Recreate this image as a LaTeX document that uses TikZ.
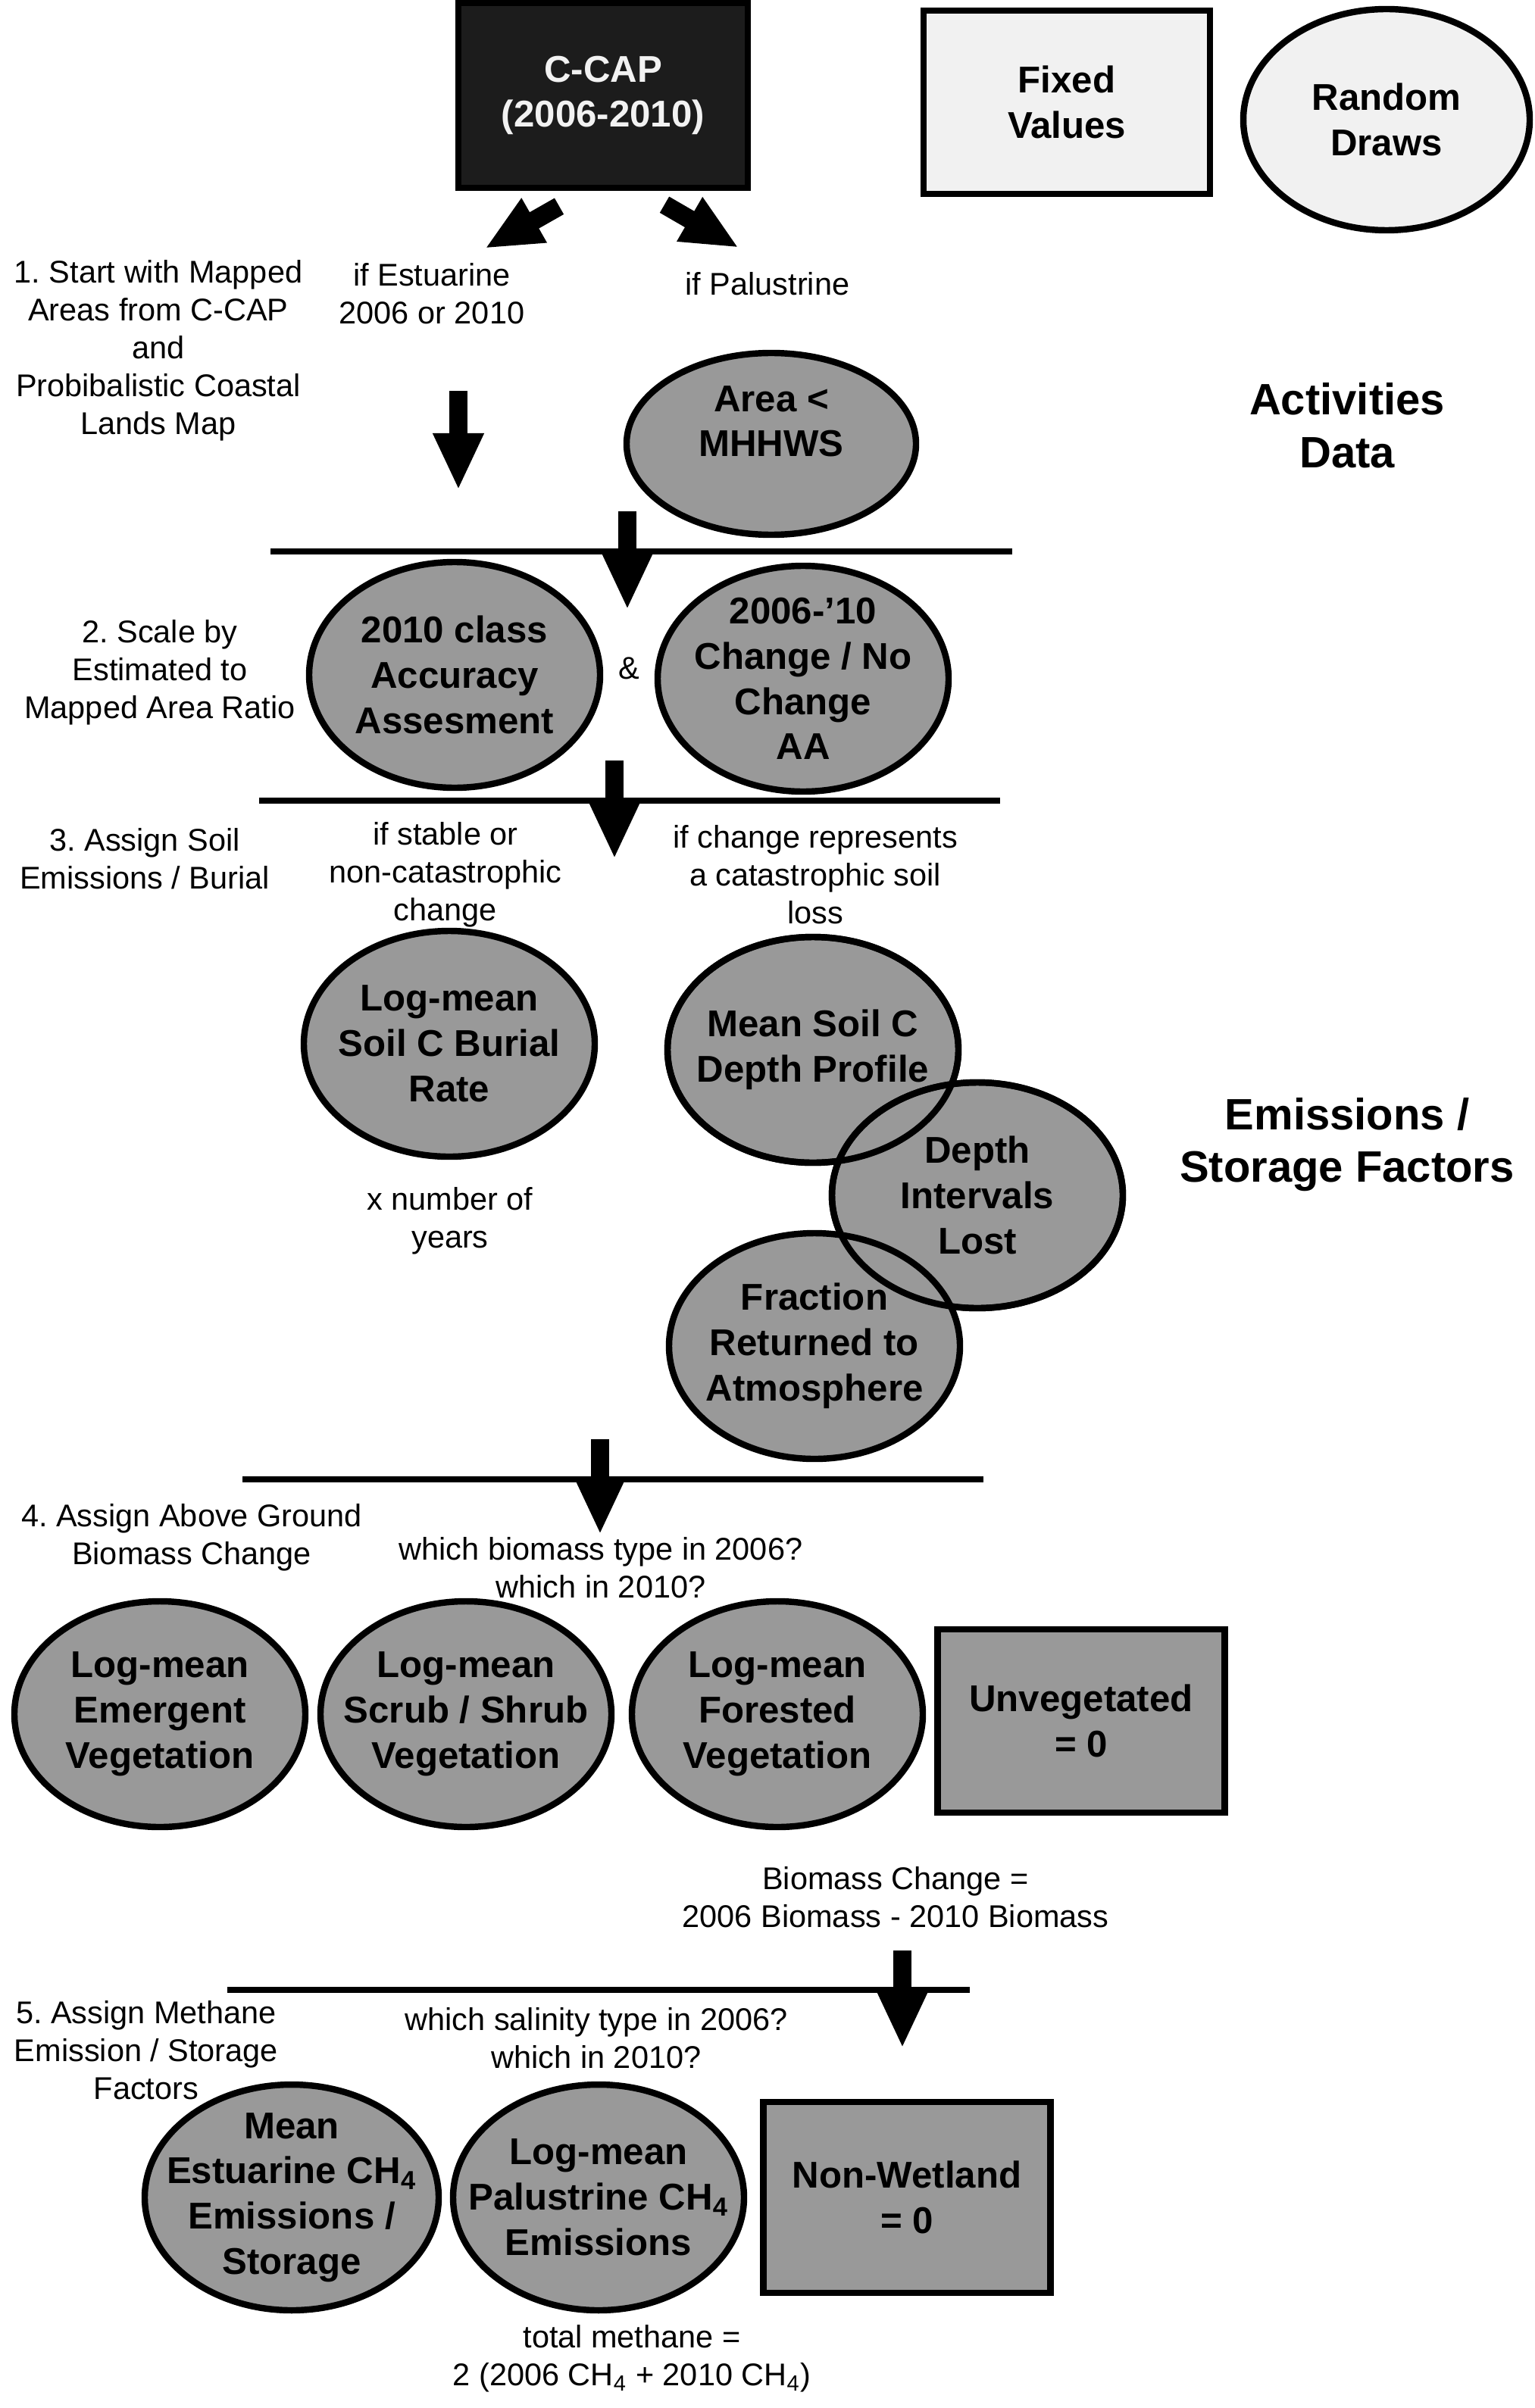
\documentclass[tikz,border=0pt]{standalone}
\usepackage{fontspec}
\setmainfont{Liberation Sans}
\usepackage{tikz}
\usetikzlibrary{positioning,arrows.meta,shapes.geometric}
\frenchspacing
\definecolor{drawgray}{HTML}{999999}
\definecolor{lightfill}{HTML}{F1F1F1}
\definecolor{darkfill}{HTML}{1C1C1C}
\tikzset{
  ringline/.style={draw=black, line width=2.4pt},
  randnode/.style={ringline, ellipse, fill=drawgray, minimum width=3.84cm,
    minimum height=2.98cm, inner xsep=-0.6cm, inner ysep=-0.4cm,
    align=center, font=\bfseries\fontsize{14}{17}\selectfont},
  fixnode/.style={ringline, rectangle, fill=drawgray, minimum width=3.8cm,
    minimum height=2.42cm, align=center,
    font=\bfseries\fontsize{14}{17}\selectfont},
  note/.style={align=center, yshift=-0.4mm, font=\fontsize{11.8}{14.2}\selectfont},
  heading/.style={align=center, font=\bfseries\fontsize{16.5}{19.8}\selectfont},
  stepline/.style={line width=2.3pt},
  bigarrow/.style={line width=7pt, -{Triangle[length=7.5mm,width=6.2mm]}}
}
\begin{document}
\begin{tikzpicture}
  \useasboundingbox (0,0) rectangle (20.25,-31.79);

  % legend
  \node[fixnode, fill=darkfill, text=white!95!black, minimum width=3.82cm,
    minimum height=2.44cm] (ccap) at (7.96,-1.26) {C-CAP\\(2006-2010)};
  \node[fixnode, fill=lightfill, minimum width=3.78cm] (fixed) at (14.08,-1.35)
    {Fixed\\Values};
  \node[randnode, fill=lightfill, minimum width=3.78cm, minimum height=2.92cm]
    (random) at (18.30,-1.58) {Random\\Draws};

  % 1. mapped areas
  \node[note] (step1) at (2.09,-4.59)
    {1. Start with Mapped\\Areas from C-CAP\\and\\Probibalistic Coastal\\Lands Map};
  \node[note] (ifest) at (5.70,-3.84) {if Estuarine\\2006 or 2010};
  \node[note] (ifpal) at (10.13,-3.71) {if Palustrine};
  \node[randnode, minimum width=3.82cm, minimum height=2.40cm] (area)
    at (10.18,-5.86) {Area <\\MHHWS\\\mbox{}};
  \node[heading] (actdata) at (17.78,-5.62) {Activities\\Data};

  \coordinate (esttip) at (6.40,-3.28);
  \coordinate (paltip) at (9.75,-3.27);
  \draw[bigarrow] ([shift={(-0.58,-0.20)}]ccap.south) -- (esttip);
  \draw[bigarrow] ([shift={(0.81,-0.18)}]ccap.south) -- (paltip);
  \coordinate (go1) at (6.05,-5.16);
  \draw[bigarrow] (go1) -- ++(0,-1.31);

  % 2. accuracy assessment
  \draw[stepline] (3.57,-7.28) -- (13.36,-7.28);
  \coordinate (go2) at (8.28,-6.75);
  \draw[bigarrow] (go2) -- ++(0,-1.30);
  \node[note] (step2) at (2.11,-8.84)
    {2. Scale by\\Estimated to\\Mapped Area Ratio};
  \node[randnode] (classaa) at (6.00,-8.91)
    {2010 class\\Accuracy\\Assesment};
  \node[note] (amp) at (8.30,-8.78) {\&};
  \node[randnode] (changeaa) at (10.60,-8.96)
    {2006-’10\\Change / No\\Change\\AA};

  % 3. soil emissions / burial
  \draw[stepline] (3.42,-10.57) -- (13.20,-10.57);
  \coordinate (go3) at (8.11,-10.04);
  \draw[bigarrow] (go3) -- ++(0,-1.30);
  \node[note] (step3) at (1.91,-11.30) {3. Assign Soil\\Emissions / Burial};
  \node[note] (ifstable) at (5.88,-11.51)
    {if stable or\\non-catastrophic\\change};
  \node[note] (ifloss) at (10.76,-11.51)
    {if change represents\\a catastrophic soil\\loss};
  \node[randnode] (burial) at (5.93,-13.78) {Log-mean\\Soil C Burial\\Rate};
  \node[note] (years) at (5.94,-16.08) {x number of\\years};
  \node[randnode] (depthprof) at (10.73,-13.86) {Mean Soil C\\Depth Profile};
  \node[randnode] (lost) at (12.90,-15.78) {Depth\\Intervals\\Lost};
  \node[randnode] (frac) at (10.75,-17.77)
    {Fraction\\Returned to\\Atmosphere};
  \draw[ringline] (depthprof.center) ellipse [x radius=1.92cm, y radius=1.49cm];
  \draw[ringline] (lost.center) ellipse [x radius=1.92cm, y radius=1.49cm];
  \node[heading] (emfactors) at (17.78,-15.11) {Emissions /\\Storage Factors};

  % 4. above ground biomass
  \draw[stepline] (3.20,-19.53) -- (12.98,-19.53);
  \coordinate (go4) at (7.92,-19.00);
  \draw[bigarrow] (go4) -- ++(0,-1.26);
  \node[note] (step4) at (2.53,-20.26) {4. Assign Above Ground\\Biomass Change};
  \node[note] (whichbio) at (7.93,-20.66)
    {which biomass type in 2006?\\which in 2010?};
  \node[randnode] (emerg) at (2.11,-22.63) {Log-mean\\Emergent\\Vegetation};
  \node[randnode] (scrub) at (6.15,-22.63) {Log-mean\\Scrub / Shrub\\Vegetation};
  \node[randnode] (forest) at (10.26,-22.63) {Log-mean\\Forested\\Vegetation};
  \node[fixnode, minimum width=3.79cm] (unveg) at (14.27,-22.72)
    {Unvegetated\\= 0};
  \node[note] (bioeq) at (11.82,-25.01)
    {Biomass Change =\\2006 Biomass - 2010 Biomass};

  % 5. methane
  \draw[stepline] (3.00,-26.27) -- (12.80,-26.27);
  \coordinate (go5) at (11.91,-25.75);
  \draw[bigarrow] (go5) -- ++(0,-1.29);
  \node[note] (step5) at (1.93,-27.03)
    {5. Assign Methane\\Emission / Storage\\Factors};
  \node[note] (whichsal) at (7.87,-26.87)
    {which salinity type in 2006?\\which in 2010?};
  \node[randnode, minimum width=3.88cm] (estch4) at (3.85,-29.01)
    {Mean\\Estuarine CH\textsubscript{4}\\Emissions /\\Storage};
  \node[randnode] (palch4) at (7.90,-29.01)
    {Log-mean\\Palustrine CH\textsubscript{4}\\Emissions};
  \node[fixnode, minimum width=3.79cm, minimum height=2.52cm] (nonwet)
    at (11.97,-29.01) {Non-Wetland\\= 0};
  \node[note] (totalch4) at (8.34,-31.10)
    {total methane =\\2 (2006 CH\textsubscript{4} + 2010 CH\textsubscript{4})};
\end{tikzpicture}
\end{document}
